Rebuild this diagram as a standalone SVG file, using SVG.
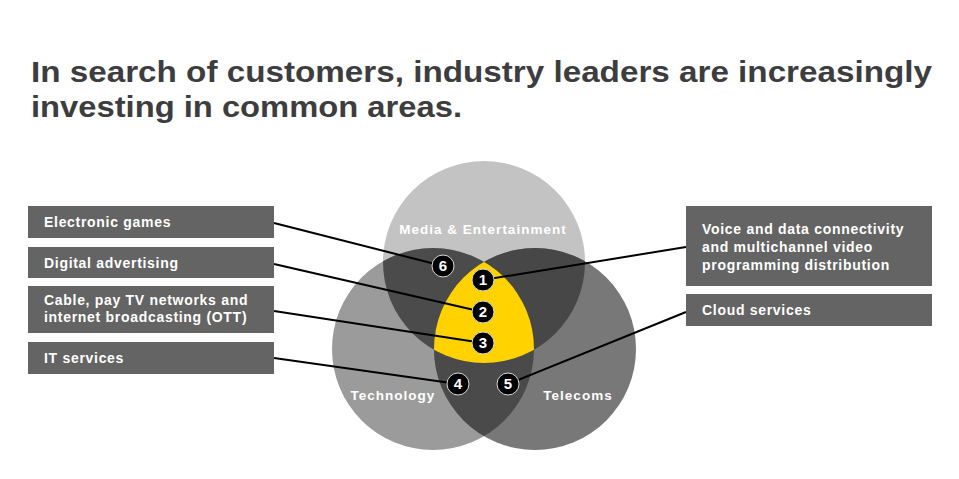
<svg xmlns="http://www.w3.org/2000/svg" width="959" height="479" viewBox="0 0 959 479">
<style>
.title{font-family:"Liberation Sans",Arial,sans-serif;font-weight:bold;font-size:30px;fill:#3d3d3f}
.box{fill:#646464}
.bt{font-family:"Liberation Sans",Arial,sans-serif;font-weight:bold;font-size:14px;fill:#ffffff;letter-spacing:0.7px}
.vl{font-family:"Liberation Sans",Arial,sans-serif;font-weight:bold;font-size:13.5px;fill:#ffffff;letter-spacing:1px}
.badge{fill:#000000;stroke:#d8d8d8;stroke-width:1}
.bn{font-family:"Liberation Sans",Arial,sans-serif;font-weight:bold;font-size:15px;fill:#ffffff;text-anchor:middle}
.con{stroke:#000000;stroke-width:2;fill:none}
</style>
<defs>
<clipPath id="cT"><circle cx="484" cy="262" r="101"/></clipPath>
<clipPath id="cL"><circle cx="433" cy="349" r="101"/></clipPath>
<clipPath id="cR"><circle cx="535" cy="349" r="101"/></clipPath>
</defs>
<rect width="959" height="479" fill="#ffffff"/>
<g id="title">
<text class="title" x="31" y="82" textLength="901" lengthAdjust="spacingAndGlyphs">In search of customers, industry leaders are increasingly</text>
<text class="title" x="31" y="117" textLength="431" lengthAdjust="spacingAndGlyphs">investing in common areas.</text>
</g>
<g id="venn">
<circle cx="484" cy="262" r="101" fill="#c3c3c3"/>
<circle cx="433" cy="349" r="101" fill="#9b9b9b"/>
<circle cx="535" cy="349" r="101" fill="#787878"/>
<g clip-path="url(#cT)"><circle cx="433" cy="349" r="101" fill="#4b4b4b"/><circle cx="535" cy="349" r="101" fill="#474747"/></g>
<g clip-path="url(#cL)"><circle cx="535" cy="349" r="101" fill="#4a4a4a"/></g>
<g clip-path="url(#cT)"><g clip-path="url(#cL)"><circle cx="535" cy="349" r="101" fill="#ffd200"/></g></g>
<text class="vl" x="483" y="234" text-anchor="middle">Media &amp; Entertainment</text>
<text class="vl" x="393" y="400" text-anchor="middle">Technology</text>
<text class="vl" x="578" y="400" text-anchor="middle">Telecoms</text>
</g>
<g id="connectors">
<line class="con" x1="274" y1="223" x2="443" y2="266"/>
<line class="con" x1="274" y1="264" x2="483" y2="312"/>
<line class="con" x1="274" y1="311" x2="483" y2="343"/>
<line class="con" x1="274" y1="358" x2="458" y2="384"/>
<line class="con" x1="686" y1="247" x2="483" y2="280"/>
<line class="con" x1="686" y1="312" x2="508" y2="384"/>
</g>
<g id="box-games"><rect class="box" x="28" y="206" width="246" height="32"/><text class="bt" x="44" y="227">Electronic games</text></g>
<g id="box-ads"><rect class="box" x="28" y="247" width="246" height="31"/><text class="bt" x="44" y="268">Digital advertising</text></g>
<g id="box-cable"><rect class="box" x="28" y="286" width="246" height="47"/><text class="bt" x="44" y="305">Cable, pay TV networks and</text><text class="bt" x="44" y="322">internet broadcasting (OTT)</text></g>
<g id="box-it"><rect class="box" x="28" y="342" width="246" height="32"/><text class="bt" x="44" y="363">IT services</text></g>
<g id="box-voice"><rect class="box" x="686" y="206" width="246" height="80"/><text class="bt" x="702" y="234">Voice and data connectivity</text><text class="bt" x="702" y="252">and multichannel video</text><text class="bt" x="702" y="270">programming distribution</text></g>
<g id="box-cloud"><rect class="box" x="686" y="294" width="246" height="32"/><text class="bt" x="702" y="315">Cloud services</text></g>
<g id="badge-6"><circle class="badge" cx="443" cy="266" r="11"/><text class="bn" x="443" y="271">6</text></g>
<g id="badge-1"><circle class="badge" cx="483" cy="280" r="11"/><text class="bn" x="483" y="285">1</text></g>
<g id="badge-2"><circle class="badge" cx="483" cy="312" r="11"/><text class="bn" x="483" y="317">2</text></g>
<g id="badge-3"><circle class="badge" cx="483" cy="343" r="11"/><text class="bn" x="483" y="348">3</text></g>
<g id="badge-4"><circle class="badge" cx="458" cy="384" r="11"/><text class="bn" x="458" y="389">4</text></g>
<g id="badge-5"><circle class="badge" cx="508" cy="384" r="11"/><text class="bn" x="508" y="389">5</text></g>
</svg>
